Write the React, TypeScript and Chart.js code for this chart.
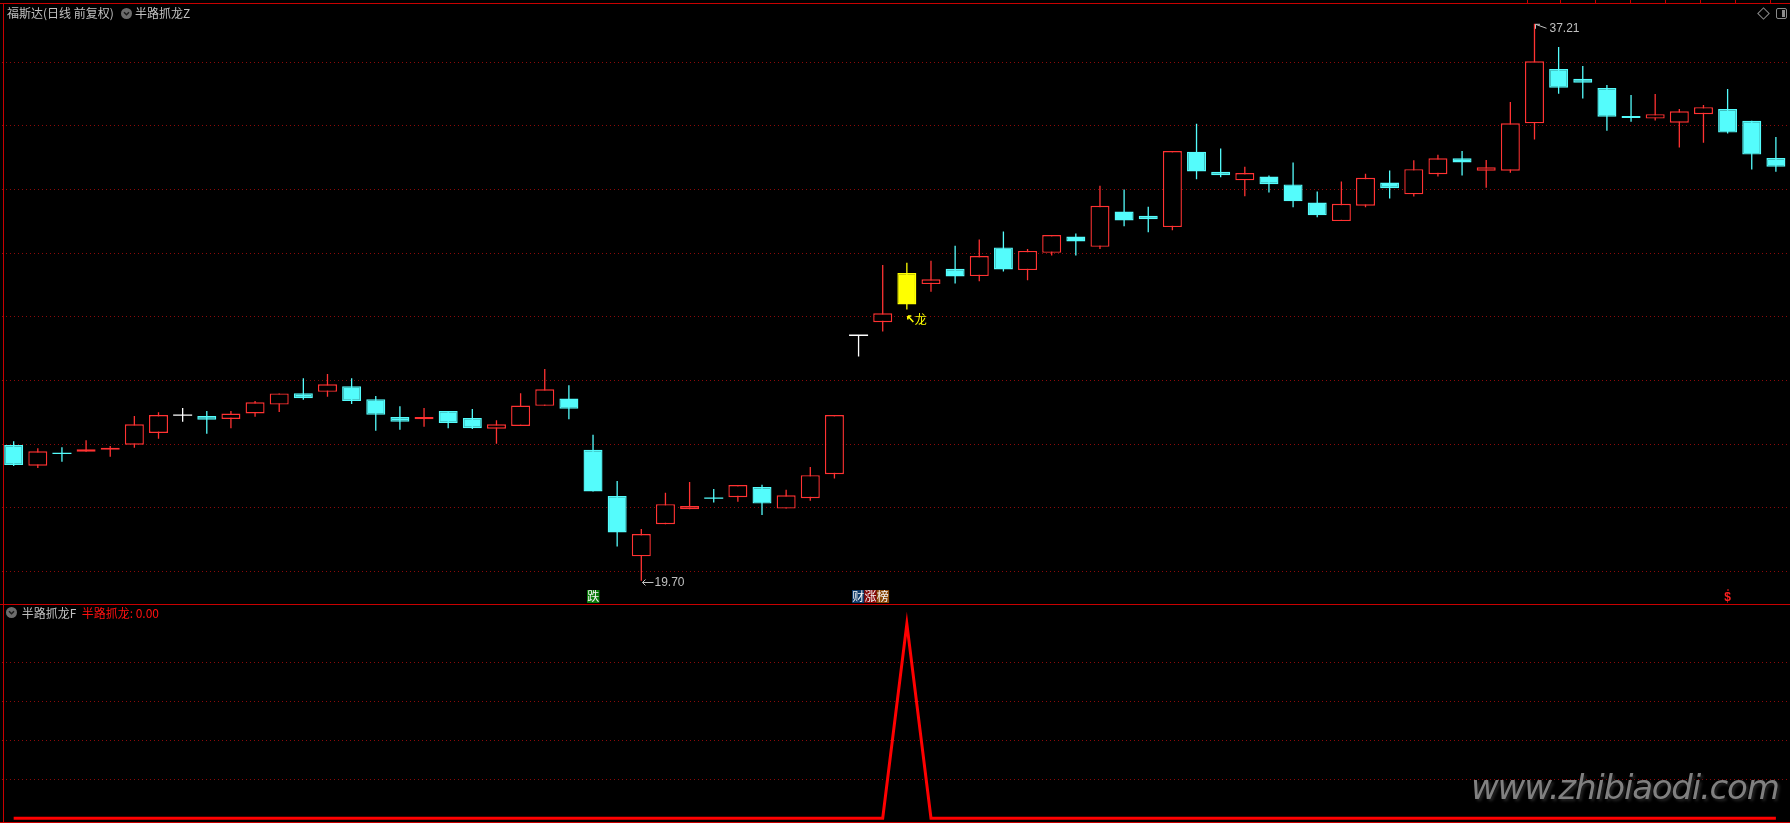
import React, { useEffect, useRef } from 'react';
import { Chart, registerables } from 'chart.js';

Chart.register(...registerables);

// ---------- data ----------
const categories = [
  '1', '2', '3', '4', '5', '6', '7', '8', '9', '10', '11', '12', '13', '14', '15', '16', '17', '18', '19', '20',
  '21', '22', '23', '24', '25', '26', '27', '28', '29', '30', '31', '32', '33', '34', '35', '36', '37', '38', '39', '40',
  '41', '42', '43', '44', '45', '46', '47', '48', '49', '50', '51', '52', '53', '54', '55', '56', '57', '58', '59', '60',
  '61', '62', '63', '64', '65', '66', '67', '68', '69', '70', '71', '72', '73', '74',
];

const opens = [
  23.97, 23.32, 23.72, 23.76, 23.82, 23.98, 24.35, 24.91, 24.88, 24.79,
  24.96, 25.24, 25.60, 25.64, 25.82, 25.41, 24.85, 24.78, 25.04, 24.82,
  24.48, 24.57, 25.20, 25.43, 23.82, 22.37, 20.47, 21.48, 21.95, 22.31,
  22.33, 22.65, 21.97, 22.30, 23.05, 27.42, 27.83, 28.39, 29.03, 29.51,
  29.28, 30.18, 29.47, 30.01, 30.52, 30.20, 31.31, 31.18, 30.82, 33.19,
  32.56, 32.29, 32.41, 32.16, 31.59, 31.01, 31.49, 32.22, 31.85, 32.48,
  32.98, 32.59, 32.59, 34.08, 35.79, 35.48, 35.19, 34.31, 34.23, 34.10,
  34.37, 34.53, 34.16, 32.99,
];

const highs = [
  24.09, 23.87, 23.90, 24.12, 23.94, 24.88, 25.00, 25.13, 25.04, 25.04,
  25.35, 25.59, 26.07, 26.20, 26.07, 25.51, 25.19, 25.13, 25.04, 25.10,
  24.75, 25.60, 26.36, 25.85, 24.29, 22.84, 21.33, 22.47, 22.81, 22.59,
  22.71, 22.72, 22.56, 23.28, 24.91, 27.42, 29.63, 29.70, 29.76, 30.23,
  30.43, 30.68, 30.13, 30.57, 30.62, 32.12, 32.00, 31.46, 33.21, 34.07,
  33.29, 32.72, 32.44, 32.85, 31.94, 32.25, 32.50, 32.60, 32.92, 33.09,
  33.21, 32.93, 34.75, 37.21, 36.48, 35.88, 35.29, 34.97, 35.00, 34.53,
  34.66, 35.16, 34.16, 33.65,
];

const lows = [
  23.31, 23.25, 23.44, 23.76, 23.60, 23.88, 24.17, 24.70, 24.32, 24.50,
  24.86, 25.01, 25.39, 25.49, 25.26, 24.42, 24.45, 24.54, 24.50, 24.47,
  24.01, 24.57, 25.20, 24.78, 22.51, 20.78, 19.70, 21.48, 21.95, 22.16,
  22.19, 21.77, 21.97, 22.22, 22.92, 26.75, 27.54, 28.23, 28.79, 29.05,
  29.12, 29.42, 29.15, 29.93, 29.93, 30.13, 30.85, 30.66, 30.72, 32.32,
  32.39, 31.79, 31.91, 31.44, 31.13, 31.01, 31.44, 31.72, 31.78, 32.41,
  32.44, 32.06, 32.53, 33.57, 35.01, 34.86, 33.85, 34.13, 34.17, 33.32,
  33.47, 33.76, 32.63, 32.56,
];

const closes = [
  23.34, 23.77, 23.70, 23.84, 23.88, 24.62, 24.91, 24.91, 24.76, 24.96,
  25.31, 25.59, 25.44, 25.88, 25.35, 24.92, 24.70, 24.85, 24.66, 24.50,
  24.62, 25.21, 25.72, 25.11, 22.51, 21.22, 21.17, 22.11, 22.05, 22.29,
  22.71, 22.13, 22.39, 23.02, 24.91, 27.42, 28.11, 29.38, 29.18, 29.27,
  29.91, 29.49, 30.07, 30.57, 30.37, 31.49, 31.03, 31.07, 33.21, 32.57,
  32.45, 32.52, 32.17, 31.63, 31.19, 31.55, 32.37, 32.04, 32.64, 32.98,
  32.85, 32.70, 34.08, 36.03, 35.20, 35.36, 34.29, 34.25, 34.37, 34.46,
  34.59, 33.79, 33.10, 32.72,
];

// 半路抓龙 indicator values
const signalValues = [
  0, 0, 0, 0, 0, 0, 0, 0, 0, 0,
  0, 0, 0, 0, 0, 0, 0, 0, 0, 0,
  0, 0, 0, 0, 0, 0, 0, 0, 0, 0,
  0, 0, 0, 0, 0, 0, 0, 100, 0, 0,
  0, 0, 0, 0, 0, 0, 0, 0, 0, 0,
  0, 0, 0, 0, 0, 0, 0, 0, 0, 0,
  0, 0, 0, 0, 0, 0, 0, 0, 0, 0,
  0, 0, 0, 0,
];

const priceGridLevels = [20, 22, 24, 26, 28, 30, 32, 34, 36];
const signalGridLevels = [20, 40, 60, 80];

const tagIndices = [24, 35, 71];
const tagTexts = ['跌', '财涨榜', '$'];

const stockTitle = '福斯达(日线 前复权)';
const mainIndicatorName = '半路抓龙Z';
const subIndicatorName = '半路抓龙F';
const subSeriesName = '半路抓龙';
const dragonText = '龙';
const watermark = 'www.zhibiaodi.com';

// ---------- styles ----------
const W = 1790;
const TOP_H = 604;
const BOT_TOP = 605;
const BOT_H = 218;
const PRICE_MIN = 18.972;
const PRICE_MAX = 37.958;
const SIG_MIN = -2.42;
const SIG_MAX = 109.67;
const PAD_L = 1.6;
const PAD_R = 2.04;

const UP = '#ff3232';
const DOWN = '#54fcfc';
const FLAT = '#ffffff';
const DRAGON = '#ffff00';
const BORDER = '#c80000';
const GRID = '#8c0a0a';
const TEXT = '#c0c0c0';
const CJK = '"Noto Sans CJK SC", "DejaVu Sans", sans-serif';
const LATIN = '"Liberation Sans", Arial, sans-serif';

const colorOf = (i: number) => {
  if (signalValues[i] > 0) return DRAGON;
  if (closes[i] === opens[i]) return FLAT;
  return closes[i] > opens[i] ? UP : DOWN;
};
const isThin = (i: number) => Math.abs(closes[i] - opens[i]) < 0.035;
const bodyRange = (i: number) => {
  if (isThin(i)) {
    const m = (opens[i] + closes[i]) / 2;
    return [m - 0.02, m + 0.02];
  }
  return [Math.min(opens[i], closes[i]), Math.max(opens[i], closes[i])];
};

const annotationPlugin = {
  id: 'kAnnotations',
  afterDatasetsDraw(chart: any) {
    const ctx = chart.ctx as CanvasRenderingContext2D;
    const xs = chart.scales.x;
    const ys = chart.scales.y;
    const area = chart.chartArea;
    ctx.save();

    // highest high
    let hi = 0;
    highs.forEach((h, i) => { if (h > highs[hi]) hi = i; });
    const hx = Math.round(xs.getPixelForValue(hi)) + 0.5;
    const hy = ys.getPixelForValue(highs[hi]);
    ctx.strokeStyle = TEXT;
    ctx.lineWidth = 1;
    ctx.beginPath();
    ctx.moveTo(hx + 1, hy + 0.5);
    ctx.lineTo(hx + 12, hy + 4.5);
    ctx.moveTo(hx + 1, hy + 0.5);
    ctx.lineTo(hx + 1, hy + 5);
    ctx.moveTo(hx + 1, hy + 0.5);
    ctx.lineTo(hx + 5.5, hy + 0.5);
    ctx.stroke();
    ctx.fillStyle = TEXT;
    ctx.font = `12px ${LATIN}`;
    ctx.textBaseline = 'middle';
    ctx.textAlign = 'left';
    ctx.fillText(highs[hi].toFixed(2), hx + 15, hy + 4.5);

    // lowest low
    let lo = 0;
    lows.forEach((l, i) => { if (l < lows[lo]) lo = i; });
    const lx = Math.round(xs.getPixelForValue(lo)) + 0.5;
    const ly = Math.round(ys.getPixelForValue(lows[lo])) + 1.5;
    ctx.beginPath();
    ctx.moveTo(lx + 1, ly);
    ctx.lineTo(lx + 12, ly);
    ctx.moveTo(lx + 1, ly);
    ctx.lineTo(lx + 4, ly - 3);
    ctx.moveTo(lx + 1, ly);
    ctx.lineTo(lx + 4, ly + 3);
    ctx.stroke();
    ctx.fillText(lows[lo].toFixed(2), lx + 13, ly + 0.5);

    // dragon signal
    signalValues.forEach((v, i) => {
      if (v <= 0) return;
      const dx = xs.getPixelForValue(i);
      const dy = ys.getPixelForValue(lows[i]);
      ctx.strokeStyle = DRAGON;
      ctx.lineWidth = 1.6;
      ctx.beginPath();
      ctx.moveTo(dx + 1, dy + 6.5);
      ctx.lineTo(dx + 6.5, dy + 12.5);
      ctx.moveTo(dx + 1, dy + 6.5);
      ctx.lineTo(dx + 1, dy + 10);
      ctx.moveTo(dx + 1, dy + 6.5);
      ctx.lineTo(dx + 4.5, dy + 6.5);
      ctx.stroke();
      ctx.fillStyle = DRAGON;
      ctx.font = `12px ${CJK}`;
      ctx.fillText(dragonText, dx + 8, dy + 10);
    });

    // bottom tag strip
    const tagTop = area.bottom - 14;
    const tagH = 13;
    tagIndices.forEach((idx, k) => {
      const cx = xs.getPixelForValue(idx);
      const text = tagTexts[k];
      if (text === '$') {
        ctx.fillStyle = '#ff2020';
        ctx.font = `bold 12px ${LATIN}`;
        ctx.textAlign = 'center';
        ctx.fillText('$', cx, tagTop + 8);
        ctx.fillRect(Math.round(cx) - 1, tagTop - 0.5, 2, 1);
        return;
      }
      const chars = Array.from(text);
      const bgs = chars.length === 1 ? ['#0a7a0a'] : ['#0d3868', '#880808', '#8a4808'];
      chars.forEach((ch, j) => {
        const left = Math.round(cx - 6.5) + j * 12.3;
        ctx.fillStyle = bgs[j % bgs.length];
        ctx.fillRect(left, tagTop, 12.5, tagH);
        ctx.fillStyle = '#f4f4f4';
        ctx.font = `12px ${CJK}`;
        ctx.textAlign = 'center';
        ctx.fillText(ch, left + 6.25, tagTop + 6.8);
      });
    });
    ctx.restore();
  },
};

const Chevron = ({ left, top }: { left: number; top: number }) => (
  <svg width={11} height={11} style={{ position: 'absolute', left, top }} viewBox="0 0 11 11">
    <circle cx={5.5} cy={5.5} r={5.5} fill="#6c6c6c" />
    <polyline points="3,4.3 5.5,6.8 8,4.3" fill="none" stroke="#1c1c1c" strokeWidth={1.5} />
  </svg>
);

const hLine = (top: number, left = 0, width = W) => (
  <div style={{ position: 'absolute', left, top, width, height: 1, background: BORDER }} />
);

export default function App() {
  const topRef = useRef<HTMLCanvasElement>(null);
  const botRef = useRef<HTMLCanvasElement>(null);

  useEffect(() => {
    document.body.style.margin = '0';
    document.body.style.background = '#000';

    const idx = categories.map((_, i) => i);
    const colors = idx.map(colorOf);

    const top = new Chart(topRef.current as HTMLCanvasElement, {
      type: 'bar',
      data: {
        labels: categories,
        datasets: [
          {
            label: 'wick',
            data: lows.map((l, i) => [l, highs[i]]) as any,
            backgroundColor: colors,
            borderWidth: 0,
            barThickness: 1.3,
            grouped: false,
            inflateAmount: 0,
            order: 2,
          } as any,
          {
            label: 'body',
            data: idx.map(bodyRange) as any,
            backgroundColor: idx.map((i) =>
              !isThin(i) && colors[i] === UP ? '#000000' : colors[i]),
            borderColor: colors,
            borderWidth: idx.map((i) => (isThin(i) ? 0 : 1.4)),
            borderSkipped: false,
            barThickness: 19,
            grouped: false,
            inflateAmount: 0,
            order: 1,
          } as any,
        ],
      },
      options: {
        animation: false,
        responsive: false,
        devicePixelRatio: 1,
        events: [],
        layout: { padding: { left: PAD_L, right: PAD_R, top: 0, bottom: 0 } },
        plugins: { legend: { display: false }, tooltip: { enabled: false }, title: { display: false } },
        scales: {
          x: { type: 'category', display: false, offset: true },
          y: {
            display: true,
            min: PRICE_MIN,
            max: PRICE_MAX,
            afterBuildTicks: (axis: any) => { axis.ticks = priceGridLevels.map((v) => ({ value: v })); },
            ticks: { display: false },
            grid: { color: GRID, lineWidth: 1, drawTicks: false },
            border: { display: false, dash: [1, 3] },
          } as any,
        },
      },
      plugins: [annotationPlugin],
    });

    const bot = new Chart(botRef.current as HTMLCanvasElement, {
      type: 'line',
      data: {
        labels: categories,
        datasets: [
          {
            label: subSeriesName,
            data: signalValues,
            borderColor: '#ff0000',
            borderWidth: 3,
            pointRadius: 0,
            tension: 0,
            borderJoinStyle: 'miter',
            fill: false,
          },
        ],
      },
      options: {
        animation: false,
        responsive: false,
        devicePixelRatio: 1,
        events: [],
        layout: { padding: { left: PAD_L, right: PAD_R, top: 0, bottom: 0 } },
        plugins: { legend: { display: false }, tooltip: { enabled: false } },
        scales: {
          x: { type: 'category', display: false, offset: true },
          y: {
            display: true,
            min: SIG_MIN,
            max: SIG_MAX,
            afterBuildTicks: (axis: any) => { axis.ticks = signalGridLevels.map((v) => ({ value: v })); },
            ticks: { display: false },
            grid: { color: GRID, lineWidth: 1, drawTicks: false },
            border: { display: false, dash: [1, 3] },
          } as any,
        },
      },
    });

    return () => {
      top.destroy();
      bot.destroy();
    };
  }, []);

  const topTicks = [1526.7, 1560.3, 1595.3, 1630.3, 1665.3, 1700.3, 1735.3, 1770.3];

  return (
    <div style={{ position: 'fixed', left: 0, top: 0, width: W, height: 823, background: '#000', overflow: 'hidden' }}>
      <canvas ref={topRef} width={W} height={TOP_H} style={{ position: 'absolute', left: 0, top: 0, display: 'block' }} />
      <canvas ref={botRef} width={W} height={BOT_H} style={{ position: 'absolute', left: 0, top: BOT_TOP, display: 'block' }} />

      {hLine(3)}
      {hLine(604)}
      {hLine(822)}
      <div style={{ position: 'absolute', left: 3, top: 3, width: 1, height: 820, background: BORDER }} />
      {topTicks.map((x) => (
        <div key={x} style={{ position: 'absolute', left: Math.round(x), top: 0, width: 1, height: 3, background: BORDER }} />
      ))}

      {/* main panel header */}
      <div style={{ position: 'absolute', left: 7, top: 6.5, fontFamily: CJK, fontSize: 12, lineHeight: '12px', color: TEXT, whiteSpace: 'pre' }}>
        {stockTitle}
      </div>
      <Chevron left={120.5} top={7.5} />
      <div style={{ position: 'absolute', left: 135, top: 6.5, fontFamily: CJK, fontSize: 12, lineHeight: '12px', color: TEXT, whiteSpace: 'pre' }}>
        {mainIndicatorName}
      </div>

      {/* top-right icons */}
      <div style={{ position: 'absolute', left: 1759, top: 9, width: 7, height: 7, border: '1px solid #8a8a8a', transform: 'rotate(45deg)' }} />
      <div style={{ position: 'absolute', left: 1776, top: 8, width: 9, height: 9, border: '1px solid #8a8a8a', borderRadius: 2 }}>
        <div style={{ position: 'absolute', right: 1, top: 1, width: 3, height: 7, background: '#8a8a8a' }} />
      </div>

      {/* sub panel header */}
      <Chevron left={6.2} top={607.2} />
      <div style={{ position: 'absolute', left: 21.7, top: 606.5, fontFamily: CJK, fontSize: 12, lineHeight: '12px', color: TEXT, whiteSpace: 'pre' }}>
        {subIndicatorName}
      </div>
      <div style={{ position: 'absolute', left: 81.7, top: 606.5, fontFamily: CJK, fontSize: 12, lineHeight: '12px', color: '#ff1010', whiteSpace: 'pre' }}>
        {`${subSeriesName}: ${signalValues[signalValues.length - 1].toFixed(2)}`}
      </div>

      {/* watermark */}
      <div style={{ position: 'absolute', left: 1471, top: 769.5, fontFamily: '"DejaVu Sans", sans-serif', fontStyle: 'italic', fontSize: 34, lineHeight: '34px', letterSpacing: -1.2, color: '#808080', textShadow: '2px 2px 3px #262626', whiteSpace: 'pre' }}>
        {watermark}
      </div>
    </div>
  );
}
